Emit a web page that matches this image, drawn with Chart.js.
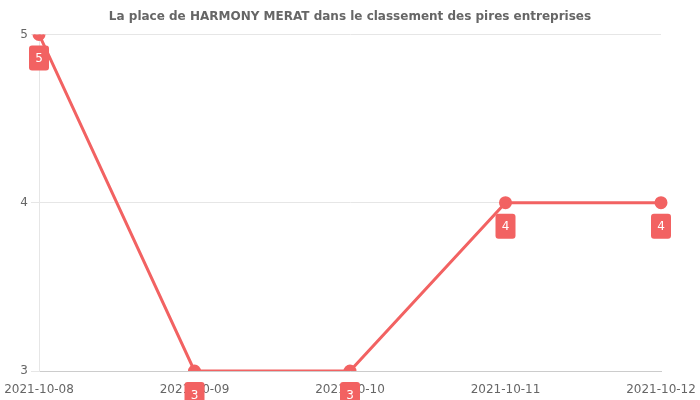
<!DOCTYPE html>
<html><head><meta charset="utf-8">
<script src="https://cdn.jsdelivr.net/npm/chart.js@4/dist/chart.umd.min.js"></script>
<style>html,body{margin:0;padding:0;background:#fff}#wrap{width:700px;height:400px}</style>
</head><body><div id="wrap"><canvas id="c" width="700" height="400"></canvas></div>
<script>
const categories = ['2021-10-08','2021-10-09','2021-10-10','2021-10-11','2021-10-12'];
const ranks = [5, 3, 3, 4, 4];
const yTicks = [3, 4, 5];
const titleText = 'La place de HARMONY MERAT dans le classement des pires entreprises';
const RED = '#f26262';

const labelPlugin = {
  id: 'boxLabels',
  afterDatasetsDraw(chart) {
    const ctx = chart.ctx;
    const meta = chart.getDatasetMeta(0);
    ctx.save();
    meta.data.forEach((pt, i) => {
      const w = 20, h = 25, r = 3;
      const cx = pt.x, cy = pt.y + 23.5;
      ctx.beginPath();
      ctx.roundRect(cx - w/2, cy - h/2, w, h, r);
      ctx.fillStyle = RED;
      ctx.fill();
      ctx.fillStyle = '#fff';
      ctx.font = '12px "DejaVu Sans"';
      ctx.textAlign = 'center';
      ctx.textBaseline = 'middle';
      ctx.fillText(String(chart.data.datasets[0].data[i]), cx, cy + 1);
    });
    ctx.restore();
  }
};

Chart.defaults.font.family = '"DejaVu Sans"';
Chart.defaults.font.size = 12;
Chart.defaults.color = '#666';

new Chart(document.getElementById('c'), {
  type: 'line',
  data: {
    labels: categories,
    datasets: [{
      data: ranks,
      borderColor: RED,
      backgroundColor: RED,
      borderWidth: 3,
      pointRadius: 5,
      pointBackgroundColor: RED,
      pointBorderColor: RED,
      tension: 0,
      fill: false
    }]
  },
  options: {
    responsive: false,
    animation: false,
    layout: { padding: 0 },
    plugins: {
      legend: { display: false },
      tooltip: { enabled: false },
      title: {
        display: true,
        text: titleText,
        color: '#666',
        font: { size: 12, weight: 'bold', family: '"DejaVu Sans"' },
        padding: { top: 10, bottom: 10 }
      }
    },
    scales: {
      x: {
        grid: { display: false, drawTicks: false },
        border: { display: true, color: '#ccc' },
        ticks: { padding: 12, autoSkip: false, maxRotation: 0, color: '#666' },
        afterFit(s) { s.height = 29; s.paddingLeft = 0; s.paddingRight = 39; }
      },
      y: {
        min: 3, max: 5,
        afterBuildTicks(s) { s.ticks = yTicks.map(v => ({ value: v })); },
        grid: { color: '#e6e6e6', drawTicks: true, tickLength: 8 },
        border: { display: true, color: '#e6e6e6' },
        ticks: { padding: 3, color: '#666' },
        afterFit(s) { s.width = 39; s.paddingTop = 0; s.paddingBottom = 0; }
      }
    }
  },
  plugins: [labelPlugin]
});
</script></body></html>
